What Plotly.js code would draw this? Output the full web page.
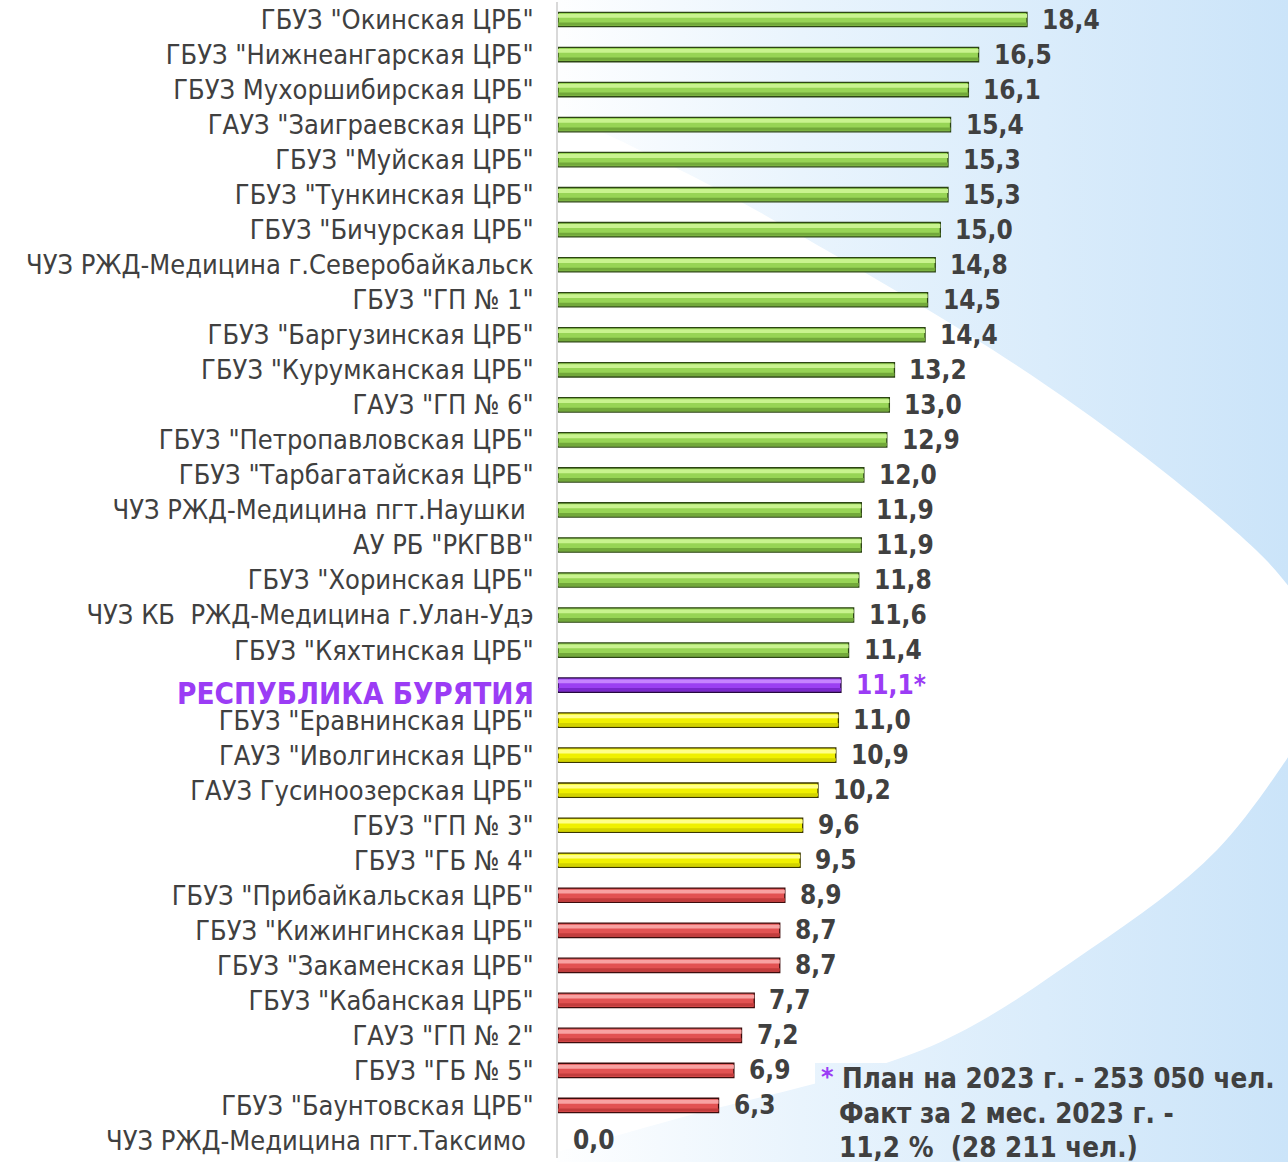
<!DOCTYPE html>
<html>
<head>
<meta charset="utf-8">
<script src="https://cdn.plot.ly/plotly-3.0.1.min.js"></script>
<style>
  html, body { margin:0; padding:0; background:#ffffff; }
  #wrap { position:relative; width:1288px; height:1162px; overflow:hidden; }
  #bg { position:absolute; left:0; top:0; }
  #chart { position:absolute; left:0; top:0; width:1288px; height:1162px; }
</style>
</head>
<body>
<div id="wrap">
<svg id="bg" width="1288" height="1162" xmlns="http://www.w3.org/2000/svg">
  <defs>
    <linearGradient id="blue" gradientUnits="userSpaceOnUse" x1="540" y1="0" x2="1288" y2="0">
      <stop offset="0" stop-color="#ffffff"/>
      <stop offset="0.35" stop-color="#e9f4fd"/>
      <stop offset="1" stop-color="#cbe4f9"/>
    </linearGradient>
  </defs>
  <rect x="0" y="0" width="1288" height="1162" fill="url(#blue)"/>
  <path id="lens" fill="#ffffff" d=""/>
  <rect x="0" y="0" width="557" height="1162" fill="#ffffff"/>
  <rect x="815" y="1063" width="473" height="99" fill="url(#blue)"/>
</svg>
<div id="chart"></div>
</div>
<script>
// ---------- data ----------
const categories = [
  'ГБУЗ "Окинская ЦРБ"',
  'ГБУЗ "Нижнеангарская ЦРБ"',
  'ГБУЗ Мухоршибирская ЦРБ"',
  'ГАУЗ "Заиграевская ЦРБ"',
  'ГБУЗ "Муйская ЦРБ"',
  'ГБУЗ "Тункинская ЦРБ"',
  'ГБУЗ "Бичурская ЦРБ"',
  'ЧУЗ РЖД-Медицина г.Северобайкальск',
  'ГБУЗ "ГП № 1"',
  'ГБУЗ "Баргузинская ЦРБ"',
  'ГБУЗ "Курумканская ЦРБ"',
  'ГАУЗ "ГП № 6"',
  'ГБУЗ "Петропавловская ЦРБ"',
  'ГБУЗ "Тарбагатайская ЦРБ"',
  'ЧУЗ РЖД-Медицина пгт.Наушки\u00a0',
  'АУ РБ "РКГВВ"',
  'ГБУЗ "Хоринская ЦРБ"',
  'ЧУЗ КБ \u00a0РЖД-Медицина г.Улан-Удэ',
  'ГБУЗ "Кяхтинская ЦРБ"',
  'РЕСПУБЛИКА БУРЯТИЯ',
  'ГБУЗ "Еравнинская ЦРБ"',
  'ГАУЗ "Иволгинская ЦРБ"',
  'ГАУЗ Гусиноозерская ЦРБ"',
  'ГБУЗ "ГП № 3"',
  'ГБУЗ "ГБ № 4"',
  'ГБУЗ "Прибайкальская ЦРБ"',
  'ГБУЗ "Кижингинская ЦРБ"',
  'ГБУЗ "Закаменская ЦРБ"',
  'ГБУЗ "Кабанская ЦРБ"',
  'ГАУЗ "ГП № 2"',
  'ГБУЗ "ГБ № 5"',
  'ГБУЗ "Баунтовская ЦРБ"',
  'ЧУЗ РЖД-Медицина пгт.Таксимо\u00a0'
];
const values = [18.4, 16.5, 16.1, 15.4, 15.3, 15.3, 15.0, 14.8, 14.5, 14.4, 13.2, 13.0, 12.9, 12.0,
  11.9, 11.9, 11.8, 11.6, 11.4, 11.1, 11.0, 10.9, 10.2, 9.6, 9.5, 8.9, 8.7, 8.7, 7.7, 7.2, 6.9, 6.3, 0.0];
const groups = ['high','high','high','high','high','high','high','high','high','high','high','high','high','high',
  'high','high','high','high','high','region','mid','mid','mid','mid','mid','low','low','low','low','low','low','low','low'];
const regionName = 'РЕСПУБЛИКА БУРЯТИЯ';
const footnoteLines = ['План на 2023 г. - 253 050 чел.', 'Факт за 2 мес. 2023 г. -', '11,2 % \u00a0(28 211 чел.)'];

// ---------- styles ----------
const palette = {
  high:   {base:'#97d455', hi:'#c9f38f', lo:'#72a83a', line:'#2c4414'},
  region: {base:'#9b40f2', hi:'#c684ff', lo:'#7a28cc', line:'#26083f'},
  mid:    {base:'#f0f000', hi:'#ffff8a', lo:'#d2d200', line:'#3a3600'},
  low:    {base:'#e25252', hi:'#f8a2a2', lo:'#c23c3c', line:'#3d0c0c'}
};
const purple = '#9b3cf5';
const grey = '#404040';
const fontReg = 'DejaVu Sans Condensed, DejaVu Sans';

// geometry
const L = 558, W = 1288, H = 1162, T = 2, B = 4;
const pxPerUnit = 25.49;
const xMax = (W - L) / pxPerUnit;
function px2x(px){ return (px - L) / (W - L); }
function px2y(py){ return (H - B - py) / (H - T - B); }

// ---------- background lens ----------
(function(){
  const top = [[560,112],[700,180],[826,250],[993,350],[1136,450],[1256,550],[1310,615]];
  const bot = [[1310,725],[1217,850],[1089,950],[922,1050],[683,1117],[564,1150],[430,1185]];
  function cr(p){
    let d = 'M' + p[0][0] + ',' + p[0][1];
    for (let i = 0; i < p.length - 1; i++) {
      const p0 = p[Math.max(i-1,0)], p1 = p[i], p2 = p[i+1], p3 = p[Math.min(i+2,p.length-1)];
      const c1 = [p1[0] + (p2[0]-p0[0])/6, p1[1] + (p2[1]-p0[1])/6];
      const c2 = [p2[0] - (p3[0]-p1[0])/6, p2[1] - (p3[1]-p1[1])/6];
      d += ' C' + c1.join(',') + ' ' + c2.join(',') + ' ' + p2.join(',');
    }
    return d;
  }
  const d = 'M0,40 L420,45 ' + cr(top).replace(/^M/, 'L') + cr(bot).replace(/^M/, ' L') + ' L0,1185 Z';
  document.getElementById('lens').setAttribute('d', d);
})();

// ---------- traces ----------
const baseColors = groups.map(g => palette[g].base);
const hiColors = groups.map(g => palette[g].hi);
const loColors = groups.map(g => palette[g].lo);
const lineColors = groups.map(g => palette[g].line);
const lineWidths = values.map(v => v > 0 ? 1.3 : 0);

const traces = [
  {type:'bar', orientation:'h', x:values, y:categories, width:0.41,
   marker:{color:baseColors, line:{color:lineColors, width:lineWidths}}, hoverinfo:'x+y'},
  {type:'bar', orientation:'h', x:values, y:categories, width:0.09, offset:0.085,
   marker:{color:loColors, line:{width:0}}, hoverinfo:'skip'},
  {type:'bar', orientation:'h', x:values, y:categories, width:0.11, offset:-0.16,
   marker:{color:hiColors, line:{width:0}}, hoverinfo:'skip'}
];

// ---------- annotations ----------
const annotations = [];
values.forEach((v, i) => {
  const isRegion = groups[i] === 'region';
  annotations.push({
    x: v, y: categories[i], xref:'x', yref:'y', xanchor:'left', yanchor:'middle',
    xshift: 13, showarrow:false,
    text: v.toFixed(1).replace('.', ',') + (isRegion ? '*' : ''),
    font:{family:fontReg, size:26, color: isRegion ? purple : grey, weight:'bold'}
  });
});
annotations.push({
  x: 0, y: regionName, xref:'paper', yref:'y', xanchor:'right', yanchor:'middle',
  xshift: -22, yshift: -9, showarrow:false, text: regionName,
  font:{family:fontReg, size:29.5, color: purple, weight:'bold'}
});
annotations.push({
  x: px2x(819), y: px2y(1077), xref:'paper', yref:'paper', xanchor:'left', yanchor:'middle',
  showarrow:false, text:'*', font:{family:'DejaVu Sans', size:24, color:purple, weight:'bold'}
});
const fnX = [840, 837, 837], fnY = [1078, 1113, 1147];
footnoteLines.forEach((t, i) => {
  annotations.push({
    x: px2x(fnX[i]), y: px2y(fnY[i]), xref:'paper', yref:'paper', xanchor:'left', yanchor:'middle',
    showarrow:false, text:t,
    font:{family:fontReg, size:27.5, color:grey, weight:'bold'}
  });
});

const tickText = categories.map(c => c === regionName ? '' : c);

const layout = {
  width: W, height: H,
  margin:{l:L, r:0, t:T, b:B, pad:0},
  paper_bgcolor:'rgba(0,0,0,0)', plot_bgcolor:'rgba(0,0,0,0)',
  barmode:'overlay', showlegend:false,
  xaxis:{range:[0, xMax], showgrid:false, zeroline:false, showticklabels:false, showline:false, fixedrange:true},
  yaxis:{type:'category', categoryorder:'array', categoryarray:categories,
    range:[categories.length - 0.5, -0.5], showgrid:false, zeroline:false,
    showline:true, linecolor:'#d9d9d9', linewidth:2, ticks:'',
    tickmode:'array', tickvals:categories, ticktext:tickText, ticklabelstandoff:17,
    tickfont:{family:fontReg, size:27, color:grey}, fixedrange:true},
  annotations: annotations
};

Plotly.newPlot('chart', traces, layout, {displayModeBar:false, staticPlot:true});
</script>
</body>
</html>
